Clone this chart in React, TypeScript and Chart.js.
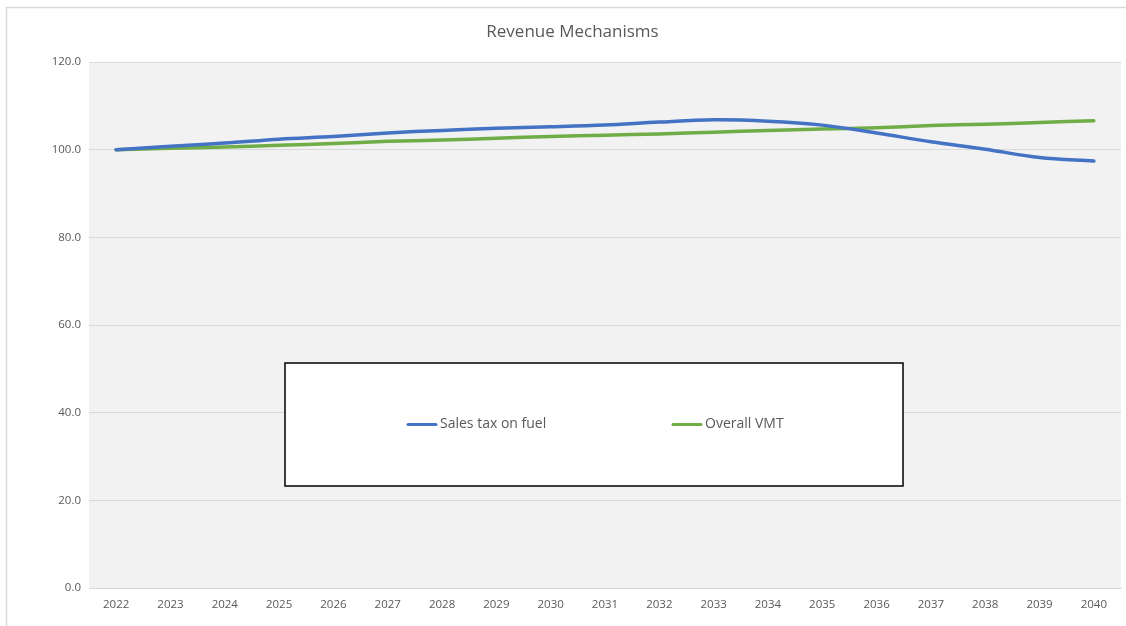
import React, { useEffect, useRef } from "react";
import { Chart, registerables } from "chart.js";

Chart.register(...registerables);

const years = ["2022","2023","2024","2025","2026","2027","2028","2029","2030","2031","2032","2033","2034","2035","2036","2037","2038","2039","2040"];
const salesTaxOnFuel = [100.0, 100.8, 101.5, 102.4, 103.0, 103.8, 104.4, 104.9, 105.2, 105.6, 106.3, 106.8, 106.5, 105.6, 103.8, 101.8, 100.1, 98.2, 97.4];
const overallVMT = [100.0, 100.3, 100.6, 101.0, 101.4, 101.9, 102.2, 102.6, 103.0, 103.3, 103.6, 104.0, 104.4, 104.7, 105.0, 105.5, 105.8, 106.2, 106.6];
const seriesLabels = ["Sales tax on fuel", "Overall VMT"];
const seriesColors = ["#4472C4", "#70AD47"];
const chartTitle = "Revenue Mechanisms";

const FONT = "'Open Sans', 'Noto Sans', sans-serif";
const TEXT = "#595959";

const decorPlugin = {
  id: "decor",
  beforeDraw(chart: any) {
    const { ctx, chartArea: ca } = chart;
    ctx.save();
    ctx.fillStyle = "#ffffff";
    ctx.fillRect(0, 0, chart.width, chart.height);
    ctx.strokeStyle = "#d9d9d9";
    ctx.lineWidth = 1.5;
    ctx.beginPath();
    ctx.moveTo(6.5, chart.height);
    ctx.lineTo(6.5, 7.5);
    ctx.lineTo(chart.width, 7.5);
    ctx.stroke();
    ctx.fillStyle = "#f2f2f2";
    ctx.fillRect(ca.left, ca.top, ca.right - ca.left, ca.bottom - ca.top);
    ctx.restore();
  },
  afterDatasetsDraw(chart: any) {
    const { ctx, chartArea: ca } = chart;
    const bx = ca.left + 196;
    const by = ca.top + 301;
    const bw = 618;
    const bh = 123;
    ctx.save();
    ctx.fillStyle = "#ffffff";
    ctx.fillRect(bx, by, bw, bh);
    ctx.strokeStyle = "#000000";
    ctx.lineWidth = 1.5;
    ctx.strokeRect(bx, by, bw, bh);
    const cy = by + bh / 2;
    const starts = [bx + 123, bx + 388];
    chart.data.datasets.forEach((ds: any, i: number) => {
      const x0 = starts[i];
      ctx.strokeStyle = ds.borderColor;
      ctx.lineWidth = 3;
      ctx.lineCap = "round";
      ctx.beginPath();
      ctx.moveTo(x0, cy);
      ctx.lineTo(x0 + 28, cy);
      ctx.stroke();
      ctx.fillStyle = TEXT;
      ctx.font = `14px ${FONT}`;
      ctx.textBaseline = "middle";
      ctx.textAlign = "left";
      ctx.fillText(ds.label, x0 + 32, cy);
    });
    ctx.restore();
  },
};

export default function App() {
  const ref = useRef<HTMLCanvasElement | null>(null);
  useEffect(() => {
    document.body.style.margin = "0";
    const chart = new Chart(ref.current as HTMLCanvasElement, {
      type: "line",
      data: {
        labels: years,
        datasets: [
          { label: seriesLabels[0], data: salesTaxOnFuel, borderColor: seriesColors[0], backgroundColor: seriesColors[0], borderWidth: 3.5, pointRadius: 0, tension: 0.35, borderCapStyle: "round" },
          { label: seriesLabels[1], data: overallVMT, borderColor: seriesColors[1], backgroundColor: seriesColors[1], borderWidth: 3.5, pointRadius: 0, tension: 0.35, borderCapStyle: "round" },
        ],
      },
      options: {
        responsive: false,
        animation: false,
        layout: { padding: { left: 24, right: 5, top: 0, bottom: 0 } },
        plugins: {
          legend: { display: false },
          tooltip: { enabled: false },
          title: {
            display: true,
            text: chartTitle,
            color: TEXT,
            font: { family: FONT, size: 17, weight: "normal", lineHeight: 1.2 },
            padding: { top: 22, bottom: 19.6 },
          },
        },
        scales: {
          x: {
            offset: true,
            grid: { display: false, drawTicks: false },
            border: { display: true, color: "#d9d9d9", width: 1 },
            ticks: { color: TEXT, font: { family: FONT, size: 11.5 }, padding: 10, maxRotation: 0, autoSkip: false },
            afterFit(scale: any) { scale.height = 38; },
          },
          y: {
            min: 0,
            max: 120,
            grid: { color: "#d9d9d9", drawTicks: false, lineWidth: 1 },
            border: { display: false },
            ticks: { stepSize: 20, color: TEXT, font: { family: FONT, size: 11.5 }, padding: 8, callback: (v: any) => Number(v).toFixed(1) },
            afterFit(scale: any) { scale.width = 65; },
          },
        },
      },
      plugins: [decorPlugin],
    } as any);
    return () => chart.destroy();
  }, []);
  return (
    <div style={{ position: "absolute", left: 0, top: 0 }}>
      <canvas ref={ref} width={1126} height={626} />
    </div>
  );
}
